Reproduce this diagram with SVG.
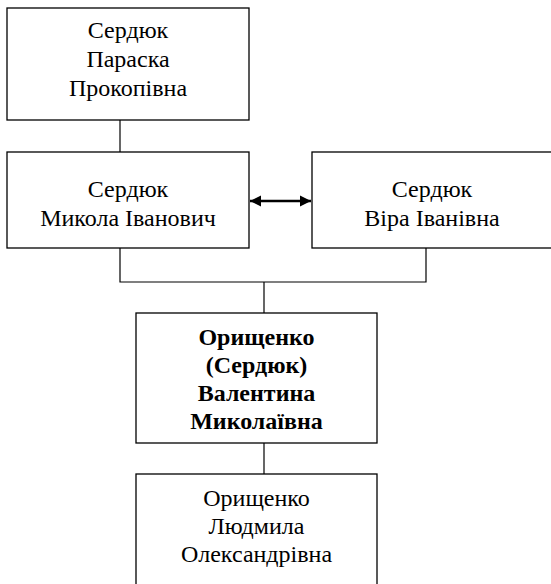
<svg xmlns="http://www.w3.org/2000/svg" width="551" height="584" viewBox="0 0 551 584">
<style>
.box{fill:#fff;stroke:#000;stroke-width:1.3}
.c{fill:none;stroke:#000;stroke-width:1.2}
.arr{fill:none;stroke:#000;stroke-width:2.5}
</style>
<defs>
<marker id="ah" viewBox="0 0 10 10" refX="10" refY="5" markerWidth="4.5" markerHeight="4.5" orient="auto-start-reverse" markerUnits="strokeWidth">
<path d="M0,0 L10,5 L0,10 z" fill="#000"/>
</marker>
</defs>
<rect width="551" height="584" fill="#fff"/>
<g id="connectors">
<line class="c" x1="120" y1="120" x2="120" y2="152"/>
<polyline class="c" points="120,248 120,282 426,282 426,248"/>
<line class="c" x1="264" y1="282" x2="264" y2="313"/>
<line class="c" x1="264" y1="443" x2="264" y2="474"/>
<line class="arr" x1="250" y1="201" x2="311" y2="201" marker-start="url(#ah)" marker-end="url(#ah)"/>
</g>
<g id="n1">
<rect class="box" x="7" y="8" width="242" height="112"/>
<text x="128" y="38" font-family="Liberation Serif" font-size="24" text-anchor="middle">Сердюк</text>
<text x="128" y="67" font-family="Liberation Serif" font-size="24" text-anchor="middle">Параска</text>
<text x="128" y="96" font-family="Liberation Serif" font-size="24" text-anchor="middle">Прокопівна</text>
</g>
<g id="n2">
<rect class="box" x="7" y="152" width="242" height="96"/>
<text x="128" y="197" font-family="Liberation Serif" font-size="24" text-anchor="middle">Сердюк</text>
<text x="128" y="226" font-family="Liberation Serif" font-size="24" text-anchor="middle">Микола Іванович</text>
</g>
<g id="n3">
<rect class="box" x="312" y="152" width="242" height="96"/>
<text x="432" y="197" font-family="Liberation Serif" font-size="24" text-anchor="middle">Сердюк</text>
<text x="432" y="226" font-family="Liberation Serif" font-size="24" text-anchor="middle">Віра Іванівна</text>
</g>
<g id="n4">
<rect class="box" x="136" y="313" width="241" height="130"/>
<text x="256.5" y="345" font-family="Liberation Serif" font-size="24" font-weight="bold" text-anchor="middle">Орищенко</text>
<text x="256.5" y="373" font-family="Liberation Serif" font-size="24" font-weight="bold" text-anchor="middle">(Сердюк)</text>
<text x="256.5" y="401" font-family="Liberation Serif" font-size="24" font-weight="bold" text-anchor="middle">Валентина</text>
<text x="256.5" y="429" font-family="Liberation Serif" font-size="24" font-weight="bold" text-anchor="middle">Миколаївна</text>
</g>
<g id="n5">
<rect class="box" x="136" y="474" width="241" height="130"/>
<text x="256.5" y="506" font-family="Liberation Serif" font-size="24" text-anchor="middle">Орищенко</text>
<text x="256.5" y="534" font-family="Liberation Serif" font-size="24" text-anchor="middle">Людмила</text>
<text x="256.5" y="562" font-family="Liberation Serif" font-size="24" text-anchor="middle">Олександрівна</text>
</g>
</svg>
